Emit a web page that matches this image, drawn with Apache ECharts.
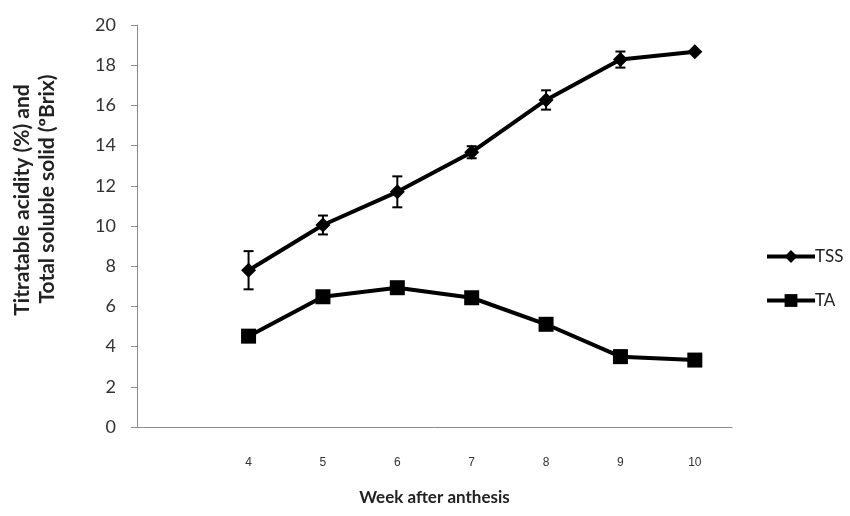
<!DOCTYPE html>
<html>
<head>
<meta charset="utf-8">
<script src="https://cdn.jsdelivr.net/npm/echarts@6/dist/echarts.min.js"></script>
<style>
  html, body { margin: 0; padding: 0; background: #fff; }
  #main { width: 850px; height: 516px; }
</style>
</head>
<body>
<div id="main"></div>
<script>
// week categories, first slot is empty as in the original
var weeks = ['', '4', '5', '6', '7', '8', '9', '10'];
var tss = [null, 7.8, 10.05, 11.7, 13.67, 16.27, 18.28, 18.67];
var tssErr = [0, 0.95, 0.47, 0.77, 0.3, 0.48, 0.4, 0];
var ta = [null, 4.52, 6.48, 6.93, 6.43, 5.11, 3.5, 3.33];
var taErr = [0, 0, 0, 0, 0, 0, 0.3, 0];

var myChart = echarts.init(document.getElementById('main'));

function errBars(vals, errs) {
    var out = [];
    for (var i = 0; i < vals.length; i++) {
        if (vals[i] != null && errs[i] > 0) {
            out.push([i, vals[i] - errs[i], vals[i] + errs[i]]);
        }
    }
    return out;
}

function renderErr(params, api) {
    var lo = api.coord([api.value(0), api.value(1)]);
    var hi = api.coord([api.value(0), api.value(2)]);
    var w = 5;
    var st = { stroke: '#000', lineWidth: 2 };
    return {
        type: 'group',
        children: [
            { type: 'line', shape: { x1: lo[0], y1: lo[1], x2: hi[0], y2: hi[1] }, style: st },
            { type: 'line', shape: { x1: lo[0] - w, y1: lo[1], x2: lo[0] + w, y2: lo[1] }, style: st },
            { type: 'line', shape: { x1: hi[0] - w, y1: hi[1], x2: hi[0] + w, y2: hi[1] }, style: st }
        ]
    };
}

var axisGray = '#8c8c8c';
var titleFont = { fontFamily: 'Lato', fontWeight: 'bold', fontSize: 21, fill: '#222' };

var option = {
    animation: false,
    grid: { left: 137, right: 118, top: 25, bottom: 89 },
    // y axis title, two rotated lines
    graphic: [
        {
            type: 'text', x: 22, y: 200, rotation: Math.PI / 2,
            style: Object.assign({ text: 'Titratable acidity (%) and', align: 'center', verticalAlign: 'middle' }, titleFont)
        },
        {
            type: 'text', x: 47, y: 189, rotation: Math.PI / 2,
            style: Object.assign({ text: 'Total soluble solid (ºBrix)', align: 'center', verticalAlign: 'middle' }, titleFont)
        }
    ],
    legend: {
        data: ['TSS', 'TA'],
        orient: 'vertical',
        left: 760,
        top: 243,
        itemWidth: 48,
        itemHeight: 16,
        itemGap: 27,
        lineStyle: { width: 4 },
        textStyle: { fontFamily: 'Lato', fontSize: 17, color: '#222', padding: [0, 0, 0, -5] }
    },
    xAxis: {
        type: 'category',
        data: weeks,
        boundaryGap: true,
        name: 'Week after anthesis',
        nameLocation: 'middle',
        nameGap: 62,
        nameTextStyle: { fontFamily: 'Lato', fontWeight: 'bold', fontSize: 17, color: '#222' },
        axisLine: { lineStyle: { color: axisGray, width: 1 } },
        axisTick: { length: 6, lineStyle: { color: axisGray } },
        axisLabel: { interval: 0, margin: 30, fontFamily: 'Liberation Sans', fontSize: 12, color: '#333' }
    },
    yAxis: {
        type: 'value',
        min: 0,
        max: 20,
        interval: 2,
        splitLine: { show: false },
        axisLine: { show: true, lineStyle: { color: axisGray, width: 1 } },
        axisTick: { show: true, length: 6, lineStyle: { color: axisGray } },
        axisLabel: { margin: 21, fontFamily: 'Lato', fontSize: 18, color: '#333' }
    },
    series: [
        {
            name: 'TSS',
            type: 'line',
            data: tss,
            symbol: 'diamond',
            symbolSize: 15,
            lineStyle: { color: '#000', width: 4 },
            itemStyle: { color: '#000' },
            z: 3
        },
        {
            name: 'TA',
            type: 'line',
            data: ta,
            symbol: 'rect',
            symbolSize: 15,
            lineStyle: { color: '#000', width: 4 },
            itemStyle: { color: '#000' },
            z: 3
        },
        {
            name: 'TSS err',
            type: 'custom',
            renderItem: renderErr,
            data: errBars(tss, tssErr),
            encode: { x: 0, y: [1, 2] },
            z: 4
        },
        {
            name: 'TA err',
            type: 'custom',
            renderItem: renderErr,
            data: errBars(ta, taErr),
            encode: { x: 0, y: [1, 2] },
            z: 4
        }
    ]
};
myChart.setOption(option);
</script>
</body>
</html>
